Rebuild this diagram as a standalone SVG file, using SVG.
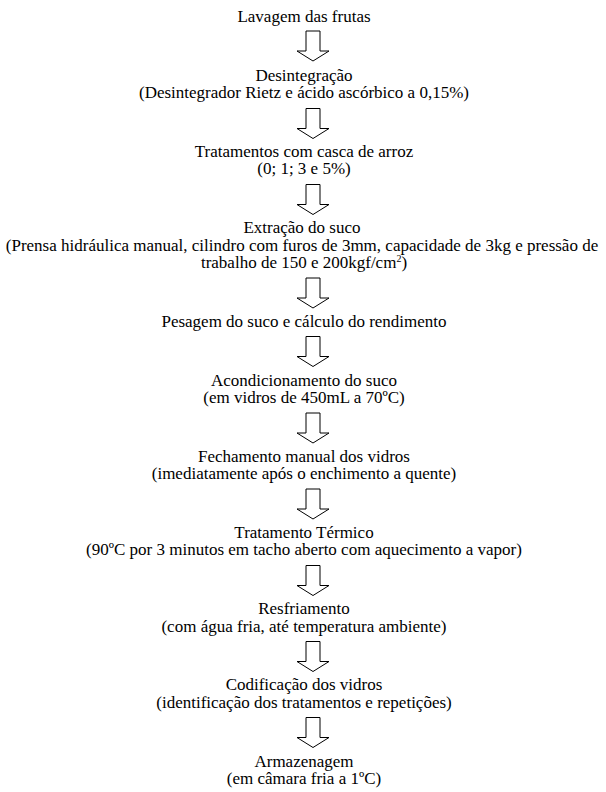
<svg xmlns="http://www.w3.org/2000/svg" width="606" height="792" viewBox="0 0 606 792">
<defs>
<style>
.t text{font-family:'Liberation Serif','Times New Roman','DejaVu Serif',serif;font-size:17px;fill:#000;text-anchor:middle}
.arrow{fill:#fff;stroke:#000;stroke-width:1}
</style>
<path id="ar" class="arrow" d="M306,0 H320 V20 H329 L313,30 L297,20 H306 Z"/>
</defs>
<rect width="606" height="792" fill="#fff"/>
<g class="t" font-family="Liberation Serif, Times New Roman, serif">
<g id="n1"><text x="304" y="22">Lavagem das frutas</text></g>
<g id="n2"><text x="304" y="80.7">Desintegração</text><text x="304" y="98.2">(Desintegrador Rietz e ácido ascórbico a 0,15%)</text></g>
<g id="n3"><text x="304" y="156.9">Tratamentos com casca de arroz</text><text x="304" y="174.4">(0; 1; 3 e 5%)</text></g>
<g id="n4"><text x="302" y="233.1">Extração do suco</text><text x="302" y="250.6">(Prensa hidráulica manual, cilindro com furos de 3mm, capacidade de 3kg e pressão de</text><text x="304" y="268.1">trabalho de 150 e 200kgf/cm<tspan font-size="10" dy="-6">2</tspan><tspan dy="6">)</tspan></text></g>
<g id="n5"><text x="304" y="326.8">Pesagem do suco e cálculo do rendimento</text></g>
<g id="n6"><text x="304" y="385.5">Acondicionamento do suco</text><text x="304" y="403">(em vidros de 450mL a 70ºC)</text></g>
<g id="n7"><text x="304" y="461.7">Fechamento manual dos vidros</text><text x="304" y="479.2">(imediatamente após o enchimento a quente)</text></g>
<g id="n8"><text x="304" y="537.9">Tratamento Térmico</text><text x="304" y="555.4">(90ºC por 3 minutos em tacho aberto com aquecimento a vapor)</text></g>
<g id="n9"><text x="304" y="614.1">Resfriamento</text><text x="304" y="631.6">(com água fria, até temperatura ambiente)</text></g>
<g id="n10"><text x="304" y="690.3">Codificação dos vidros</text><text x="304" y="707.8">(identificação dos tratamentos e repetições)</text></g>
<g id="n11"><text x="304" y="766.5">Armazenagem</text><text x="304" y="784">(em câmara fria a 1ºC)</text></g>
</g>
<g id="connectors">
<use href="#ar" y="31"/>
<use href="#ar" y="108.5"/>
<use href="#ar" y="184.5"/>
<use href="#ar" y="278"/>
<use href="#ar" y="336.5"/>
<use href="#ar" y="413"/>
<use href="#ar" y="489"/>
<use href="#ar" y="565.5"/>
<use href="#ar" y="641.5"/>
<use href="#ar" y="717.5"/>
</g>
</svg>
